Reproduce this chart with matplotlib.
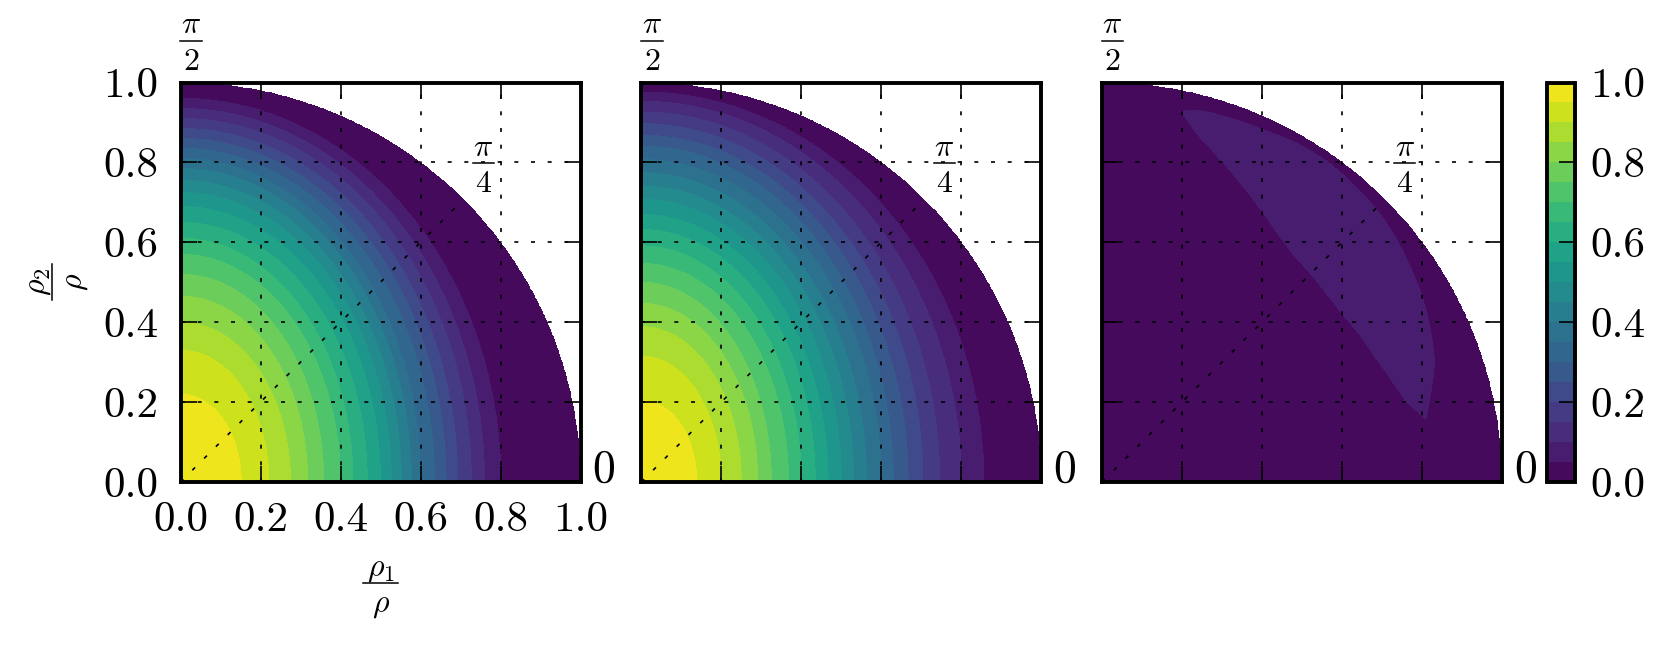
import numpy as np
import matplotlib
matplotlib.use("Agg")
import matplotlib.pyplot as plt
from matplotlib.lines import Line2D

plt.rcParams["mathtext.fontset"] = "cm"
plt.rcParams["font.family"] = "cmr10"
plt.rcParams["axes.formatter.use_mathtext"] = True

# contour levels of the plotted quantity
levels = np.linspace(0.0, 1.0, 21)
band_values = [0.95, 0.90, 0.85, 0.80, 0.75, 0.70, 0.65, 0.60, 0.55, 0.50,
               0.45, 0.40, 0.35, 0.30, 0.25, 0.20, 0.15, 0.10, 0.05]

# where each level crosses the rho1 axis / rho2 axis
left_x = [0.152, 0.221, 0.275, 0.318, 0.358, 0.400, 0.431, 0.467, 0.500, 0.527,
          0.552, 0.577, 0.600, 0.635, 0.664, 0.693, 0.727, 0.760, 0.800]
left_y = [0.220, 0.330, 0.400, 0.465, 0.520, 0.570, 0.610, 0.650, 0.690, 0.725,
          0.755, 0.785, 0.810, 0.835, 0.860, 0.885, 0.910, 0.935, 0.960]
mid_x = [0.139, 0.200, 0.250, 0.291, 0.325, 0.368, 0.400, 0.435, 0.467, 0.500,
         0.531, 0.563, 0.600, 0.630, 0.667, 0.704, 0.746, 0.800, 0.856]
mid_y = [0.205, 0.315, 0.389, 0.447, 0.500, 0.547, 0.591, 0.632, 0.670, 0.707,
         0.741, 0.774, 0.807, 0.841, 0.868, 0.897, 0.926, 0.953, 0.976]

# right panel: the only band above 0.05 (angle in degrees, inner / outer radius)
ridge_theta = [11, 15, 20, 25, 30, 35, 40, 45, 50, 55, 60, 65, 70, 75, 78]
ridge_rin = [0.824, 0.785, 0.765, 0.750, 0.742, 0.733, 0.733, 0.737, 0.743,
             0.762, 0.790, 0.823, 0.860, 0.905, 0.949]
ridge_rout = [0.824, 0.850, 0.885, 0.905, 0.925, 0.940, 0.956, 0.968, 0.975,
              0.980, 0.978, 0.970, 0.966, 0.962, 0.949]

ticks = [0.0, 0.2, 0.4, 0.6, 0.8, 1.0]
tick_labels = ["0.0", "0.2", "0.4", "0.6", "0.8", "1.0"]

n = 500
g = np.linspace(0, 1, n)
X, Y = np.meshgrid(g, g)
R = np.hypot(X, Y)
TH = np.arctan2(Y, X)


def band_field(ax_r, ay_r):
    a = np.array(ax_r)[:, None, None]
    b = np.array(ay_r)[:, None, None]
    Rk = 1.0 / np.sqrt(np.cos(TH) ** 2 / a ** 2 + np.sin(TH) ** 2 / b ** 2)
    Rfull = np.concatenate([np.zeros((1, n, n)), Rk, np.full((1, n, n), 1.05)])
    vals = np.array([1.0] + band_values + [0.0])
    idx = np.sum(R[None] >= Rfull, axis=0) - 1
    idx = np.clip(idx, 0, len(vals) - 2)
    lo = np.take_along_axis(Rfull, idx[None], 0)[0]
    hi = np.take_along_axis(Rfull, idx[None] + 1, 0)[0]
    t = (R - lo) / (hi - lo)
    Z = vals[idx] + t * (vals[idx + 1] - vals[idx])
    return np.ma.masked_where(R > 1.0, Z)


def ridge_field():
    deg = np.degrees(TH)
    rin = np.interp(deg, ridge_theta, ridge_rin)
    rout = np.interp(deg, ridge_theta, ridge_rout)
    rc = 0.5 * (rin + rout)
    hw = 0.5 * (rout - rin)
    d = np.abs(R - rc) - hw
    d = d + 0.01 * np.clip(ridge_theta[0] - deg, 0, None)
    d = d + 0.01 * np.clip(deg - ridge_theta[-1], 0, None)
    Z = np.clip(0.05 - 0.5 * d, 0.01, 0.09)
    return np.ma.masked_where(R > 1.0, Z)


fields = [band_field(left_x, left_y), band_field(mid_x, mid_y), ridge_field()]

fs = 31
dash = (0, (2.4, 7.6))
fig = plt.figure(figsize=(16.79, 6.48), dpi=100)
W, H = 1679.0, 648.0


def frac(num, den, px, py, length, rot=False, size=23):
    # TeX-like fraction, px/py = bar centre in figure pixels (from bottom-left)
    if not rot:
        fig.text(px / W, (py + 7.5) / H, num, ha="center", va="baseline", fontsize=size)
        fig.text(px / W, (py - 29) / H, den, ha="center", va="baseline", fontsize=size)
        bar = Line2D([(px - length / 2) / W, (px + length / 2) / W], [py / H, py / H],
                     transform=fig.transFigure, color="k", lw=1.1)
    else:
        fig.text((px - 7.5) / W, py / H, num, ha="center", va="baseline", rotation=90,
                 rotation_mode="anchor", fontsize=size)
        fig.text((px + 29) / W, py / H, den, ha="center", va="baseline", rotation=90,
                 rotation_mode="anchor", fontsize=size)
        bar = Line2D([px / W, px / W], [(py - length / 2) / H, (py + length / 2) / H],
                     transform=fig.transFigure, color="k", lw=1.1)
    fig.add_artist(bar)


lefts = [180.5, 641.3, 1102.0]
cs0 = None
for i, Z in enumerate(fields):
    ax = fig.add_axes([lefts[i] / W, 166 / H, 400 / W, 399.5 / H])
    cs = ax.contourf(X, Y, Z, levels=levels, cmap="viridis", vmin=0, vmax=1)
    if i == 0:
        cs0 = cs
    ax.set_xlim(0, 1)
    ax.set_ylim(0, 1)
    ax.set_xticks(ticks)
    ax.set_yticks(ticks)
    ax.set_axisbelow(False)
    ax.grid(True, color="k", linestyle=dash, linewidth=1.2)
    ax.plot([0, np.cos(np.pi / 4)], [0, np.sin(np.pi / 4)], color="k",
            linestyle=dash, linewidth=1.2)
    ax.tick_params(direction="in", length=11.5, width=1.2, top=True, right=True,
                   labelsize=fs)
    ax.tick_params(axis="x", pad=14)
    ax.tick_params(axis="y", pad=16)
    if i == 0:
        ax.set_xticklabels(tick_labels)
        ax.set_yticklabels(tick_labels)
    else:
        ax.set_xticklabels([])
        ax.set_yticklabels([])
    for sp in ax.spines.values():
        sp.set_linewidth(2.8)
    ax.text(1.03, 0.0, "0", ha="left", va="baseline", fontsize=fs + 2)
    # angle labels: pi/2 above the corner, pi/4 near the diagonal
    cx, cy = ax.transData.transform((0.0, 1.0))
    frac(r"$\pi$", r"$2$", cx + 10.4, cy + 42, 21.7)
    cx, cy = ax.transData.transform((0.757, 0.798))
    frac(r"$\pi$", r"$4$", cx, cy, 21.0)

frac(r"$\rho_2$", r"$\rho$", 52.4, H - 281.7, 36, rot=True)
frac(r"$\rho_1$", r"$\rho$", 380.8, H - 582.7, 35)

cax = fig.add_axes([1547.2 / W, 166 / H, 27.4 / W, 399.5 / H])
cb = fig.colorbar(cs0, cax=cax, ticks=ticks)
cb.set_ticklabels(tick_labels)
cb.ax.tick_params(direction="in", length=11.5, width=1.2, labelsize=fs, pad=11)
cb.outline.set_linewidth(2.8)

fig.savefig("out.png", dpi=100)
